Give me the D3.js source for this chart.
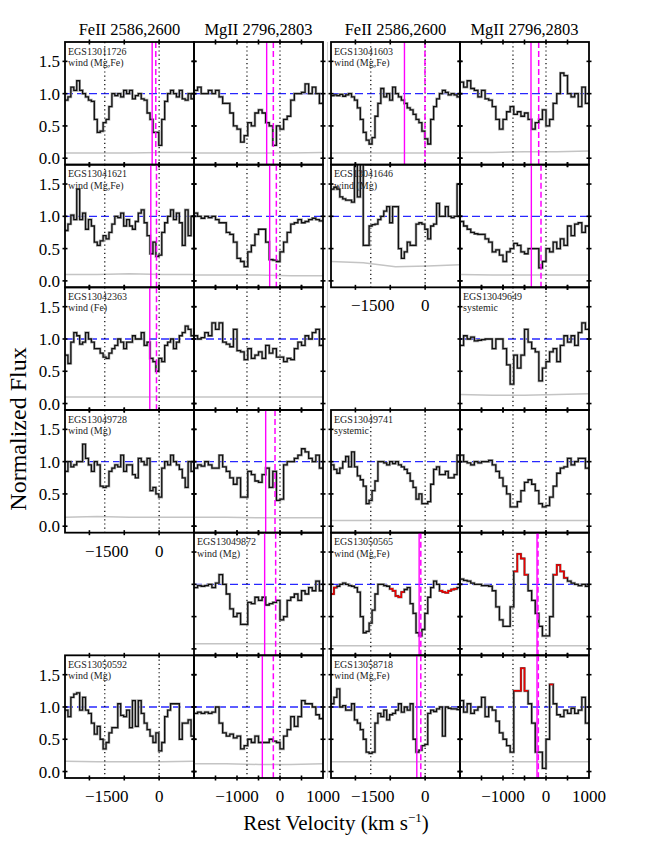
<!DOCTYPE html>
<html>
<head>
<meta charset="utf-8">
<script src="https://cdn.jsdelivr.net/npm/d3@7"></script>
<style>
body { margin: 0; background: #fff; }
text { font-family: "Liberation Serif", "Times New Roman", serif; }
</style>
</head>
<body>
<div id="chart"></div>
<script>
// velocity windows (km/s) and line positions
var fe_domain = [-2700, 1000], mg_domain = [-2000, 1000];
var fe_lines = [-1559, 0], mg_lines = [-768, 0];
var fe_ticks = [-2000, -1000, 0], mg_ticks = [-1500, -1000, -500, 0, 500];
var fe_labels = [-1500, 0], mg_labels = [-1000, 0, 1000];
var y_ticks = [0, 0.5, 1.0, 1.5];
var y_labels = ["0.0", "0.5", "1.0", "1.5"];

// normalized flux, one value per pixel bin
var fe_11726 = [0.9,0.95,1.1,1.05,1.2,1.05,1.0,0.95,0.9,0.88,0.6,0.4,0.42,0.55,0.6,0.8,1.0,0.97,1.0,0.95,1.05,1.0,1.05,0.92,0.97,1.0,0.92,0.9,0.7,0.6,0.4,0.4,0.2,0.6,0.88,1.0,1.05,1.0,0.95,1.05,0.92,0.9,1.0,0.92];
var mg_11726 = [1.05,1.1,1.0,1.0,1.05,1.0,1.05,0.95,0.85,0.85,0.7,0.5,0.45,0.25,0.35,0.55,0.5,0.7,0.75,0.7,0.55,0.5,0.2,0.5,0.45,0.6,0.65,0.9,1.0,1.0,1.02,1.15,1.0,1.1,1.0,0.85];
var fe_41603 = [0.97,0.98,0.97,0.99,0.96,0.98,1.0,0.95,0.9,0.78,0.6,0.4,0.28,0.22,0.32,0.65,0.85,1.08,0.95,1.0,0.9,1.1,1.0,0.95,0.9,0.85,0.78,0.75,0.68,0.6,0.55,0.42,0.3,0.22,0.6,0.8,0.92,1.0,1.05,1.02,0.98,1.0,0.98,0.95];
var mg_41603 = [1.18,1.1,1.2,1.08,1.05,0.95,1.05,0.92,0.9,0.8,0.6,0.45,0.6,0.72,0.8,0.68,0.72,0.65,0.7,0.6,0.45,0.55,0.6,0.75,0.5,0.6,0.85,1.0,1.32,1.28,1.0,0.95,1.0,0.8,1.1,0.85];
var fe_41621 = [0.78,0.88,1.02,0.95,1.42,0.95,1.05,0.8,0.95,0.85,0.6,0.55,0.62,0.7,0.65,0.75,0.88,1.0,0.98,1.05,0.85,0.95,0.85,0.8,0.92,1.05,1.1,0.9,0.7,0.42,0.6,0.38,0.4,0.75,0.9,1.0,1.1,0.95,1.05,0.9,0.55,1.1,0.7,1.0];
var mg_41621 = [1.05,1.0,0.97,1.0,0.98,1.0,0.95,0.9,0.9,0.75,0.72,0.6,0.35,0.3,0.22,0.45,0.55,0.72,0.8,0.8,0.6,0.33,0.32,0.3,0.45,0.6,0.75,0.88,0.9,0.95,0.9,0.92,0.95,0.97,0.95,0.93];
var fe_41646 = [1.42,1.45,1.42,1.3,1.27,1.25,1.25,1.22,1.9,1.3,1.9,0.55,0.55,0.85,0.87,0.88,0.95,1.0,1.08,1.15,0.9,1.15,1.15,0.5,0.35,0.45,0.6,0.55,0.55,0.88,0.9,0.88,0.8,0.65,0.85,0.88,1.2,1.0,1.0,1.15,1.0,0.98,1.0,1.5];
var mg_41646 = [0.92,0.85,0.8,0.75,0.73,0.72,0.72,0.65,0.6,0.45,0.48,0.4,0.3,0.45,0.5,0.58,0.55,0.45,0.42,0.5,0.5,0.5,0.2,0.3,0.5,0.45,0.6,0.5,0.65,0.55,0.85,0.7,0.88,0.9,0.75,0.85];
var fe_42363 = [0.75,0.62,0.95,1.1,1.05,0.92,0.95,1.1,1.0,0.95,0.85,0.85,0.78,0.72,0.7,0.78,0.85,0.9,1.0,0.95,0.85,0.95,0.95,1.05,1.0,1.0,1.1,0.9,0.95,0.7,0.65,0.5,0.7,0.65,0.9,0.95,1.0,0.85,0.95,1.05,1.1,1.2,1.15,1.05];
var mg_42363 = [1.05,1.0,1.02,1.1,1.05,1.25,1.15,1.25,0.95,0.92,0.88,1.15,0.82,0.8,0.68,0.85,0.7,0.75,0.8,0.7,0.9,0.78,0.85,0.72,0.72,0.65,0.7,0.68,0.85,0.95,0.9,1.05,1.0,1.1,1.15,0.9];
var mg_49649 = [0.9,1.05,1.0,1.03,0.97,0.98,0.99,1.0,1.0,0.85,1.0,1.0,0.85,0.6,0.3,0.75,0.55,0.75,1.15,0.95,0.85,0.8,0.35,0.55,0.65,0.8,0.85,0.65,0.9,1.05,0.95,1.05,0.9,1.1,1.25,1.15];
var fe_49728 = [0.85,1.0,0.92,0.95,1.0,1.0,1.27,1.05,0.95,0.85,1.0,0.95,0.62,0.6,0.62,0.85,0.9,0.95,0.92,1.1,0.85,0.95,0.95,0.8,0.75,1.05,1.0,0.95,1.05,0.55,0.6,0.5,0.45,0.9,1.0,0.95,1.1,1.0,0.95,0.88,0.75,0.6,1.0,0.85];
var mg_49728 = [0.9,0.95,0.93,1.0,0.95,0.9,0.9,1.1,0.92,0.85,0.75,0.65,0.75,0.45,0.45,0.85,0.8,0.7,0.68,0.8,0.9,0.6,0.85,0.4,0.42,0.95,1.0,1.0,1.05,1.1,1.2,1.15,1.05,1.0,1.1,0.9];
var fe_49741 = [0.95,0.88,0.82,0.9,1.0,1.08,0.92,1.15,0.92,0.78,0.72,0.62,0.35,0.4,0.55,0.7,1.0,1.0,0.98,0.95,1.0,0.97,1.0,0.95,0.92,0.88,0.82,0.7,0.6,0.42,0.5,0.35,0.35,0.38,0.65,0.88,0.92,0.8,0.8,0.85,0.75,0.75,0.8,1.1];
var mg_49741 = [1.1,1.0,0.98,0.95,1.0,0.98,1.0,1.0,1.02,0.95,0.85,0.75,0.62,0.5,0.3,0.3,0.38,0.55,0.68,0.72,0.65,0.55,0.35,0.3,0.32,0.45,0.62,0.82,0.9,0.92,1.05,0.95,1.0,1.05,1.05,0.9];
var mg_49872 = [0.95,0.98,0.97,0.98,1.0,0.95,1.02,1.15,1.0,0.85,0.62,0.5,0.55,0.38,0.38,0.72,0.7,0.8,0.75,0.8,0.68,0.7,0.72,0.75,0.45,0.5,0.75,0.8,0.85,0.75,0.9,0.85,0.95,0.9,1.05,0.9];
var fe_50565 = [0.85,0.95,0.97,1.0,1.02,1.0,0.98,0.97,0.95,0.88,0.5,0.25,0.27,0.4,0.6,0.85,1.0,1.0,0.98,0.97,0.93,0.9,0.82,0.8,0.88,0.92,0.95,0.7,0.55,0.25,0.2,0.3,0.55,0.8,0.95,1.05,1.0,0.9,0.88,0.87,0.9,0.92,0.93,0.95];
var mg_50565 = [1.08,1.06,1.05,1.02,1.0,1.0,0.98,0.98,0.97,0.9,0.65,0.45,0.35,0.35,0.65,1.2,1.47,1.4,1.15,0.9,0.75,0.55,0.35,0.2,0.2,0.5,1.15,1.3,1.2,1.1,1.05,1.02,1.0,0.98,1.0,0.97];
var fe_50592 = [0.95,0.85,1.15,1.2,1.22,0.95,1.15,0.95,0.9,0.75,0.58,0.7,0.5,0.35,0.45,0.6,0.68,0.68,1.05,0.87,0.85,0.95,0.68,1.1,0.7,1.1,0.9,0.75,0.65,0.55,0.45,0.6,0.32,0.45,0.85,0.95,1.05,1.05,1.05,0.5,0.75,0.75,0.8,0.55];
var mg_50592 = [0.9,0.92,0.9,0.92,0.9,0.92,1.0,0.75,0.6,0.55,0.58,0.52,0.55,0.35,0.4,0.5,0.45,0.55,0.45,0.45,0.45,0.5,0.47,0.45,0.35,0.55,0.65,0.85,0.7,0.85,1.1,1.05,1.05,1.0,0.88,0.82];
var fe_58718 = [1.05,1.15,1.28,1.0,1.02,0.95,0.95,1.05,0.8,0.75,0.65,0.5,0.3,0.28,0.3,0.75,0.9,0.85,0.95,0.8,0.88,0.9,0.95,1.05,0.92,1.0,0.95,1.05,0.5,0.3,0.33,0.4,0.42,0.9,0.95,0.93,0.97,1.0,0.55,1.0,0.98,0.97,0.97,0.96];
var mg_58718 = [1.1,0.92,1.05,0.9,0.95,1.0,1.15,0.85,1.0,0.95,0.78,0.6,0.5,0.4,0.3,1.25,1.25,1.6,1.25,1.05,0.75,0.3,0.3,0.05,0.5,1.35,1.05,0.88,0.85,0.95,0.9,0.98,0.9,0.95,1.15,0.75];

// error spectra, sampled evenly across each window
var err_11726 = [[0.08,0.08,0.08,0.09,0.09], [0.08,0.08,0.08,0.08,0.09]];
var err_41603 = [[0.08,0.08,0.08,0.08,0.08], [0.09,0.09,0.1,0.1,0.11]];
var err_41621 = [[0.1,0.1,0.11,0.1,0.1], [0.09,0.09,0.09,0.08,0.08]];
var err_41646 = [[0.3,0.28,0.22,0.23,0.25], [0.1,0.09,0.09,0.09,0.09]];
var err_42363 = [[0.1,0.1,0.1,0.1,0.1], [0.1,0.1,0.1,0.1,0.1]];
var err_49649 = [null, [0.14,0.13,0.13,0.14,0.15]];
var err_49728 = [[0.14,0.15,0.14,0.14,0.14], [0.14,0.14,0.13,0.13,0.13]];
var err_49741 = [[0.09,0.09,0.09,0.09,0.09], [0.09,0.09,0.09,0.09,0.09]];
var err_49872 = [null, [0.08,0.08,0.08,0.08,0.08]];
var err_50565 = [[0.05,0.05,0.05,0.05,0.05], [0.05,0.05,0.05,0.05,0.05]];
var err_50592 = [[0.16,0.15,0.15,0.15,0.16], [0.12,0.12,0.11,0.11,0.12]];
var err_58718 = [[0.15,0.15,0.15,0.15,0.15], [0.15,0.15,0.15,0.15,0.15]];

// outflow velocities (solid, dashed), per transition
var vel_11726 = [[-200, -96], [-310, -155]];
var vel_41603 = [[-593, -5], [-349, -170]];
var vel_41621 = [[-239, -76], [-240, -85]];
var vel_41646 = [null, [-341, -116]];
var vel_42363 = [[-268, -76], null];
var vel_49728 = [null, [-333, -116]];
var vel_49872 = [null, [-357, -101]];
var vel_50565 = [[-172, -124], [-209, -186]];
var vel_50592 = [null, [-411, -155]];
var vel_58718 = [[-239, -124], [-209, -178]];

// bins drawn in red (emission-filled)
var red_50565 = [[[0, 1], [20, 24], [37, 42]], [[15, 18], [26, 29]]];
var red_58718 = [[], [[15, 18], [25, 25]]];

var galaxies = [
  {name: "EGS13011726", kind: "wind (Mg,Fe)", fe: fe_11726, mg: mg_11726, err: err_11726, vel: vel_11726},
  {name: "EGS13041603", kind: "wind (Mg,Fe)", fe: fe_41603, mg: mg_41603, err: err_41603, vel: vel_41603},
  {name: "EGS13041621", kind: "wind (Mg,Fe)", fe: fe_41621, mg: mg_41621, err: err_41621, vel: vel_41621},
  {name: "EGS13041646", kind: "wind (Mg)", fe: fe_41646, mg: mg_41646, err: err_41646, vel: vel_41646},
  {name: "EGS13042363", kind: "wind (Fe)", fe: fe_42363, mg: mg_42363, err: err_42363, vel: vel_42363},
  {name: "EGS13049649", kind: "systemic", fe: null, mg: mg_49649, err: err_49649, vel: null},
  {name: "EGS13049728", kind: "wind (Mg)", fe: fe_49728, mg: mg_49728, err: err_49728, vel: vel_49728},
  {name: "EGS13049741", kind: "systemic", fe: fe_49741, mg: mg_49741, err: err_49741, vel: null},
  {name: "EGS13049872", kind: "wind (Mg)", fe: null, mg: mg_49872, err: err_49872, vel: vel_49872},
  {name: "EGS13050565", kind: "wind (Mg,Fe)", fe: fe_50565, mg: mg_50565, err: err_50565, vel: vel_50565, red: red_50565},
  {name: "EGS13050592", kind: "wind (Mg)", fe: fe_50592, mg: mg_50592, err: err_50592, vel: vel_50592},
  {name: "EGS13058718", kind: "wind (Mg,Fe)", fe: fe_58718, mg: mg_58718, err: err_58718, vel: vel_58718, red: red_58718}
];

var width = 648, height = 847;
var group_x = [65, 331], pw = 129;
var top_y = 42, ph = (778 - 42) / 6;

var svg = d3.select("#chart").append("svg")
    .attr("width", width)
    .attr("height", height);

// faint seam between the two halves
svg.append("line")
    .attr("x1", 327.5).attr("x2", 327.5)
    .attr("y1", top_y).attr("y2", top_y + 6 * ph)
    .style("stroke", "#d4d4d4").style("stroke-width", 1);

// column titles
[0, 1].forEach(function(gi){
  svg.append("text").attr("x", group_x[gi] + pw / 2).attr("y", 35)
      .attr("text-anchor", "middle").style("font-size", "16.5px")
      .text("FeII 2586,2600");
  svg.append("text").attr("x", group_x[gi] + pw * 1.5).attr("y", 35)
      .attr("text-anchor", "middle").style("font-size", "16.5px")
      .text("MgII 2796,2803");
});

var step_line = d3.line().curve(d3.curveStepAfter);

galaxies.forEach(function(gal, i){
  var row = Math.floor(i / 2), gi = i % 2;
  var below = galaxies[i + 2];
  [0, 1].forEach(function(ci){
    var flux = ci == 0 ? gal.fe : gal.mg;
    if (!flux) return;
    var x0 = group_x[gi] + ci * pw, y0 = top_y + row * ph;
    var first = ci == 0 || !gal.fe;
    var show_x = !below || !(ci == 0 ? below.fe : below.mg);
    drawPanel({
      id: "p" + i + "_" + ci, x0: x0, y0: y0, flux: flux,
      domain: ci == 0 ? fe_domain : mg_domain,
      lines: ci == 0 ? fe_lines : mg_lines,
      ticks: ci == 0 ? fe_ticks : mg_ticks,
      labels: ci == 0 ? fe_labels : mg_labels,
      err: gal.err[ci],
      vel: gal.vel ? gal.vel[ci] : null,
      red: gal.red ? gal.red[ci] : [],
      name: first ? gal.name : null, kind: gal.kind,
      show_x: show_x, show_y: gi == 0 && ci == 0
    });
  });
});

function drawPanel(p){
  var x = d3.scaleLinear().domain(p.domain).range([p.x0, p.x0 + pw]);
  var y = d3.scaleLinear().domain([-0.1, 1.8]).range([p.y0 + ph, p.y0]);
  var g = svg.append("g");

  g.append("clipPath").attr("id", p.id)
    .append("rect").attr("x", p.x0).attr("y", p.y0).attr("width", pw).attr("height", ph);

  var inner = g.append("g").attr("clip-path", "url(#" + p.id + ")");

  // error spectrum
  if (p.err) {
    var n = p.err.length;
    inner.append("path")
        .datum(p.err.map(function(e, k){ return [p.domain[0] + k * (p.domain[1] - p.domain[0]) / (n - 1), e]; }))
        .attr("d", d3.line().x(function(d){ return x(d[0]); }).y(function(d){ return y(d[1]); }))
        .style("fill", "none").style("stroke", "#c4c4c4").style("stroke-width", 1.5);
  }

  // continuum
  inner.append("line")
      .attr("x1", p.x0).attr("x2", p.x0 + pw)
      .attr("y1", y(1)).attr("y2", y(1))
      .style("stroke", "#2828ff").style("stroke-width", 1.3)
      .style("stroke-dasharray", "8,4");

  // line centres
  p.lines.forEach(function(v){
    inner.append("line")
        .attr("x1", x(v)).attr("x2", x(v))
        .attr("y1", p.y0).attr("y2", p.y0 + ph)
        .style("stroke", "#000").style("stroke-width", 1.2)
        .style("stroke-dasharray", "1.2,3");
  });

  // spectrum
  var dv = (p.domain[1] - p.domain[0]) / p.flux.length;
  var pts = p.flux.map(function(f, k){ return [x(p.domain[0] + k * dv), y(f)]; });
  pts.push([x(p.domain[1]), y(p.flux[p.flux.length - 1])]);
  inner.append("path").attr("d", step_line(pts))
      .style("fill", "none").style("stroke", "#aaa").style("stroke-width", 2.6);
  inner.append("path").attr("d", step_line(pts))
      .style("fill", "none").style("stroke", "#111").style("stroke-width", 1.3);

  p.red.forEach(function(r){
    var seg = d3.range(r[0], r[1] + 1).map(function(k){ return [x(p.domain[0] + k * dv), y(p.flux[k])]; });
    seg.push([x(p.domain[0] + (r[1] + 1) * dv), y(p.flux[r[1]])]);
    inner.append("path").attr("d", step_line(seg))
        .style("fill", "none").style("stroke", "#ee0000").style("stroke-width", 1.5);
  });

  // outflow velocities
  if (p.vel) {
    inner.append("line")
        .attr("x1", x(p.vel[0])).attr("x2", x(p.vel[0]))
        .attr("y1", p.y0).attr("y2", p.y0 + ph)
        .style("stroke", "#ff00ff").style("stroke-width", 1.4);
    inner.append("line")
        .attr("x1", x(p.vel[1])).attr("x2", x(p.vel[1]))
        .attr("y1", p.y0).attr("y2", p.y0 + ph)
        .style("stroke", "#ff00ff").style("stroke-width", 1.5)
        .style("stroke-dasharray", "6,3");
  }

  // frame
  g.append("rect").attr("x", p.x0).attr("y", p.y0).attr("width", pw).attr("height", ph)
      .style("fill", "none").style("stroke", "#000").style("stroke-width", 1.8);

  // ticks
  p.ticks.forEach(function(v){
    [p.y0, p.y0 + ph].forEach(function(yy){
      g.append("line").attr("x1", x(v)).attr("x2", x(v))
          .attr("y1", yy - 2.5).attr("y2", yy + 2.5)
          .style("stroke", "#000").style("stroke-width", 1.6);
    });
  });
  y_ticks.forEach(function(v){
    [p.x0, p.x0 + pw].forEach(function(xx){
      g.append("line").attr("x1", xx - 2.5).attr("x2", xx + 2.5)
          .attr("y1", y(v)).attr("y2", y(v))
          .style("stroke", "#000").style("stroke-width", 1.6);
    });
  });

  if (p.show_x) {
    p.labels.forEach(function(v){
      g.append("text").attr("x", x(v)).attr("y", p.y0 + ph + 24)
          .attr("text-anchor", "middle").style("font-size", "17px")
          .text(v < 0 ? "\u2212" + Math.abs(v) : v);
    });
  }
  if (p.show_y) {
    y_ticks.forEach(function(v, k){
      g.append("text").attr("x", p.x0 - 5).attr("y", y(v) + 6)
          .attr("text-anchor", "end").style("font-size", "17px")
          .text(y_labels[k]);
    });
  }

  if (p.name) {
    g.append("text").attr("x", p.x0 + 3).attr("y", p.y0 + 12.5)
        .style("font-size", "10px").style("fill", "#222").text(p.name);
    g.append("text").attr("x", p.x0 + 3).attr("y", p.y0 + 24)
        .style("font-size", "10px").style("fill", "#222").text(p.kind);
  }
}

// axis titles
svg.append("text")
    .attr("transform", "translate(26,429) rotate(-90)")
    .attr("text-anchor", "middle").style("font-size", "24px")
    .text("Normalized Flux");

var xt = svg.append("text").attr("x", 336).attr("y", 830)
    .attr("text-anchor", "middle").style("font-size", "21px");
xt.append("tspan").text("Rest Velocity (km s");
xt.append("tspan").attr("dy", -8).style("font-size", "13px").text("\u22121");
xt.append("tspan").attr("dy", 8).text(")");
</script>
</body>
</html>
